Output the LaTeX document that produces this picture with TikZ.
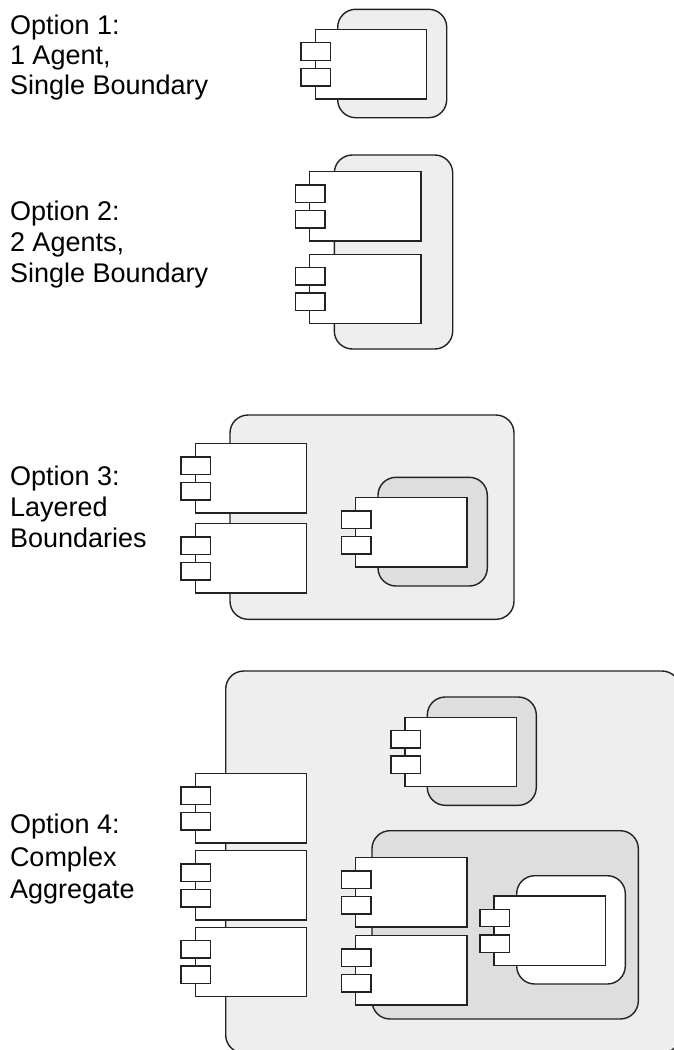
\documentclass[tikz,border=0pt]{standalone}
\usepackage{fontspec}
\setmainfont{Liberation Sans}
\definecolor{shadeA}{HTML}{EEEEEE}
\definecolor{shadeB}{HTML}{DEDEDE}
\definecolor{lineC}{HTML}{222222}
\tikzset{
  boundary/.style={draw=lineC,line width=1.4pt,rounded corners=18pt,inner sep=0pt,outer sep=0pt,anchor=north west},
  body/.style={draw=lineC,fill=white,line width=1.4pt,inner sep=0pt,outer sep=0pt,anchor=north west,minimum width=111.3pt,minimum height=69.3pt},
  port/.style={draw=lineC,fill=white,line width=1.4pt,inner sep=0pt,outer sep=0pt,anchor=north west,minimum width=29.5pt,minimum height=17.5pt},
  caption/.style={inner sep=0pt,outer sep=0pt,anchor=north west,align=left,font=\fontsize{27}{#1}\selectfont}
}
% component: name, left x, top y
\newcommand{\compo}[3]{%
  \node[body] (#1) at (#2,#3) {};
  \node[port] (#1p) at ({#2-14.2},{#3+13.2}) {};
  \node[port] (#1q) at ({#2-14.2},{#3+38.8}) {};
}
% boundary: name, left, top, right, bottom, fill
\newcommand{\bound}[6]{%
  \node[boundary,fill=#6,minimum width={(#4-#2)*1pt},minimum height={(#5-#3)*1pt}] (#1) at (#2,#3) {};
}
\begin{document}
\begin{tikzpicture}[x=1pt,y=-1pt]
\useasboundingbox (0,0) rectangle (673,1050);
% Option 1
\node[caption=29.8] (t1) at (10,15) {Option 1:\\1 Agent,\\Single Boundary};
\bound{b1}{337.7}{9.3}{446.7}{117.7}{shadeA}
\compo{c1}{315.3}{29.5}
% Option 2
\node[caption=30.8] (t2) at (10,201) {Option 2:\\2 Agents,\\Single Boundary};
\bound{b2}{334.3}{155}{452.7}{349}{shadeA}
\compo{c2a}{309.7}{171.7}
\compo{c2b}{309.7}{254.3}
% Option 3
\node[caption=31.2] (t3) at (10,465.5) {Option 3:\\Layered\\Boundaries};
\bound{b3}{230}{415}{514}{619.3}{shadeA}
\compo{c3a}{195.3}{443.7}
\compo{c3b}{195.3}{523.7}
\bound{b3i}{378}{477.3}{487.3}{586}{shadeB}
\compo{c3c}{355.7}{497.7}
% Option 4
\node[caption=32.5] (t4) at (10,814) {Option 4:\\Complex\\Aggregate};
\bound{b4}{225.7}{671}{680}{1053}{shadeA}
\compo{c4a}{195.3}{773.7}
\compo{c4b}{195.3}{850.7}
\compo{c4c}{195.3}{927.3}
\bound{b4t}{427.3}{697}{536.3}{805.3}{shadeB}
\compo{c4d}{405}{717.3}
\bound{b4i}{372}{830.7}{638.3}{1019}{shadeB}
\compo{c4e}{355.7}{857.7}
\compo{c4f}{355.7}{935.7}
\bound{b4w}{516.7}{875.7}{625.3}{984}{white}
\compo{c4g}{494}{896}
\end{tikzpicture}
\end{document}
